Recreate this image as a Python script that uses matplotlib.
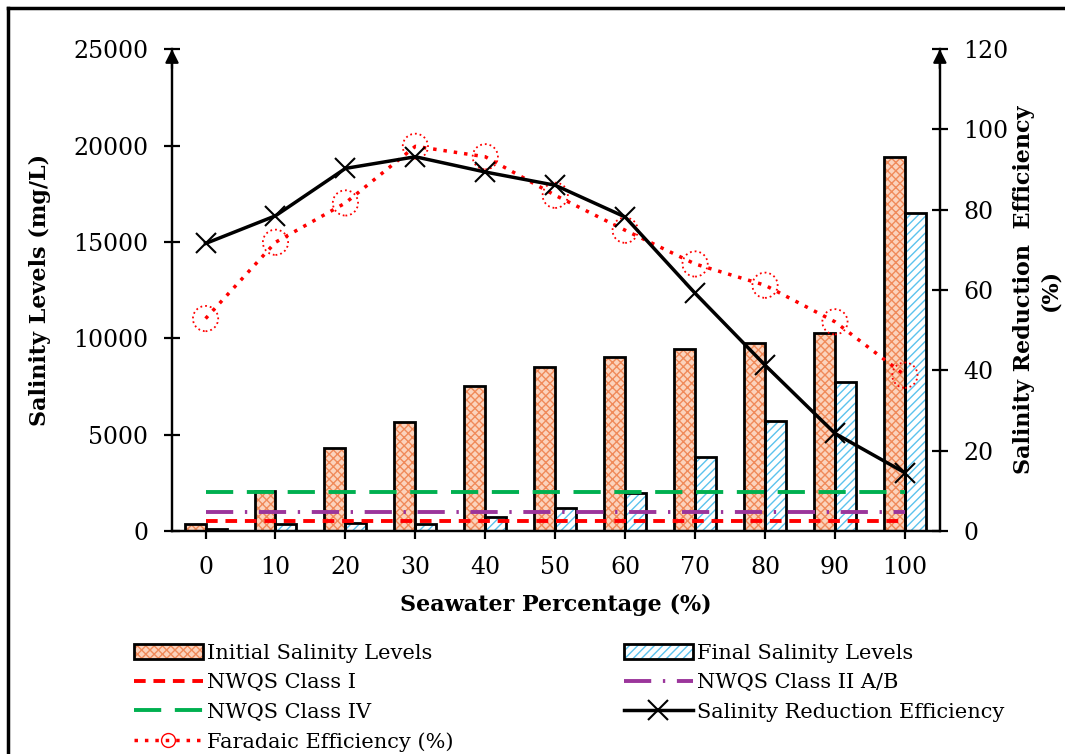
import numpy as np
import matplotlib
matplotlib.use("Agg")
import matplotlib.pyplot as plt
from matplotlib.lines import Line2D
from matplotlib.legend_handler import HandlerTuple

plt.rcParams['font.family'] = ['DejaVu Serif']
plt.rcParams['hatch.linewidth'] = 1.0

seawater = ['0', '10', '20', '30', '40', '50', '60', '70', '80', '90', '100']
initial_salinity = [350, 2050, 4320, 5640, 7520, 8490, 9040, 9420, 9730, 10250, 19400]
final_salinity = [100, 380, 430, 350, 740, 1180, 1990, 3820, 5700, 7740, 16480]
nwqs_class_1 = [500] * 11
nwqs_class_2 = [1000] * 11
nwqs_class_4 = [2000] * 11
reduction_eff = [71.6, 78.5, 90.3, 93.2, 89.4, 86.1, 78.2, 59.2, 41.3, 24.3, 14.5]
faradaic_eff = [52.9, 71.9, 81.7, 95.8, 93.2, 83.6, 74.9, 66.5, 61.2, 52.1, 38.8]

x = np.arange(len(seawater))
w = 0.3

fig = plt.figure(figsize=(10.65, 7.54), dpi=100)
ax = fig.add_axes([0.1615, 0.2958, 0.721, 0.639])
ax2 = ax.twinx()

# bars: hatch layer then black outline layer
b1 = ax.bar(x - w / 2, initial_salinity, w, color='#fbd3bd', edgecolor='#f08a5a',
            hatch='xxxx', linewidth=0, zorder=2)
b1o = ax.bar(x - w / 2, initial_salinity, w, fill=False, edgecolor='black',
             linewidth=2, zorder=3)
b2 = ax.bar(x + w / 2, final_salinity, w, color='white', edgecolor='#5cc3ee',
            hatch='////', linewidth=0, zorder=2)
b2o = ax.bar(x + w / 2, final_salinity, w, fill=False, edgecolor='black',
             linewidth=2, zorder=3)

l1, = ax.plot(x, nwqs_class_1, color='#ff0000', lw=2.8, ls=(0, (3, 2)), zorder=4)
l2, = ax.plot(x, nwqs_class_2, color='#9b359b', lw=2.8, ls=(0, (7, 3, 0.6, 3)), zorder=4)
l4, = ax.plot(x, nwqs_class_4, color='#00b050', lw=2.8, ls=(0, (7, 3.5)), zorder=4)

ax.set_ylim(0, 25000)
ax.set_xlim(-0.48, 10.5)
ax.set_yticks(np.arange(0, 25001, 5000))
ax.set_xticks(x)
ax.set_xticklabels(seawater)

ax2.plot(x, faradaic_eff, color='#ff0000', lw=2.5, ls=(0, (1, 2)), zorder=5)
ax2.scatter(x, faradaic_eff, s=330, facecolors='none', edgecolors='#ff0000',
            linewidths=1.3, linestyles=':', zorder=5)
l5, = ax2.plot(x, reduction_eff, color='black', lw=2.5, marker='x', ms=15,
               mew=1.5, zorder=6)
ax2.set_ylim(0, 120)
ax2.set_yticks(np.arange(0, 121, 20))

for a in (ax, ax2):
    a.spines['top'].set_visible(False)
    for s in ('left', 'right', 'bottom'):
        a.spines[s].set_linewidth(1.6)
    a.tick_params(axis='y', direction='inout', length=12, width=1.6, labelsize=17, pad=11)
    a.tick_params(axis='x', direction='out', length=6, width=1.6, labelsize=17, pad=12)

ax.set_ylabel('Salinity Levels (mg/L)', fontsize=16, fontweight='bold', labelpad=16)
ax.set_xlabel('Seawater Percentage (%)', fontsize=16, fontweight='bold', labelpad=11)
ax2.set_ylabel('Salinity Reduction  Efficiency\n(%)', fontsize=16, fontweight='bold',
               labelpad=3, linespacing=1.25)

# arrows on top of the vertical axes
for xf in (0, 1):
    ax.annotate('', xy=(xf, 1.0), xytext=(xf, 0.96), xycoords='axes fraction',
                arrowprops=dict(arrowstyle='-|>', color='black', lw=1.6,
                                mutation_scale=20, shrinkA=0, shrinkB=0),
                annotation_clip=False)

# frame around chart area
fig.add_artist(Line2D([8 / 1065, 1], [1 - 8 / 754, 1 - 8 / 754], color='black', lw=2.5))
fig.add_artist(Line2D([8 / 1065, 8 / 1065], [0, 1 - 8 / 754], color='black', lw=2.5))

fad = Line2D([], [], color='#ff0000', lw=2.5, ls=(0, (1, 2)), marker='o', ms=10,
             mfc='none', mec='#ff0000', mew=1.0)
handles = [(b1, b1o), l1, l4, fad, (b2, b2o), l2, l5]
labels = ['Initial Salinity Levels', 'NWQS Class I', 'NWQS Class IV',
          'Faradaic Efficiency (%)', 'Final Salinity Levels', 'NWQS Class II A/B',
          'Salinity Reduction Efficiency']
fig.legend(handles, labels, ncol=2, loc='upper left', bbox_to_anchor=(115 / 1065, 1 - 625 / 754),
           frameon=False, fontsize=15, handlelength=3.3, handletextpad=0.2,
           columnspacing=8.2, labelspacing=0.5,
           handler_map={tuple: HandlerTuple(ndivide=1, pad=0)})

fig.savefig('out.png', dpi=100)
